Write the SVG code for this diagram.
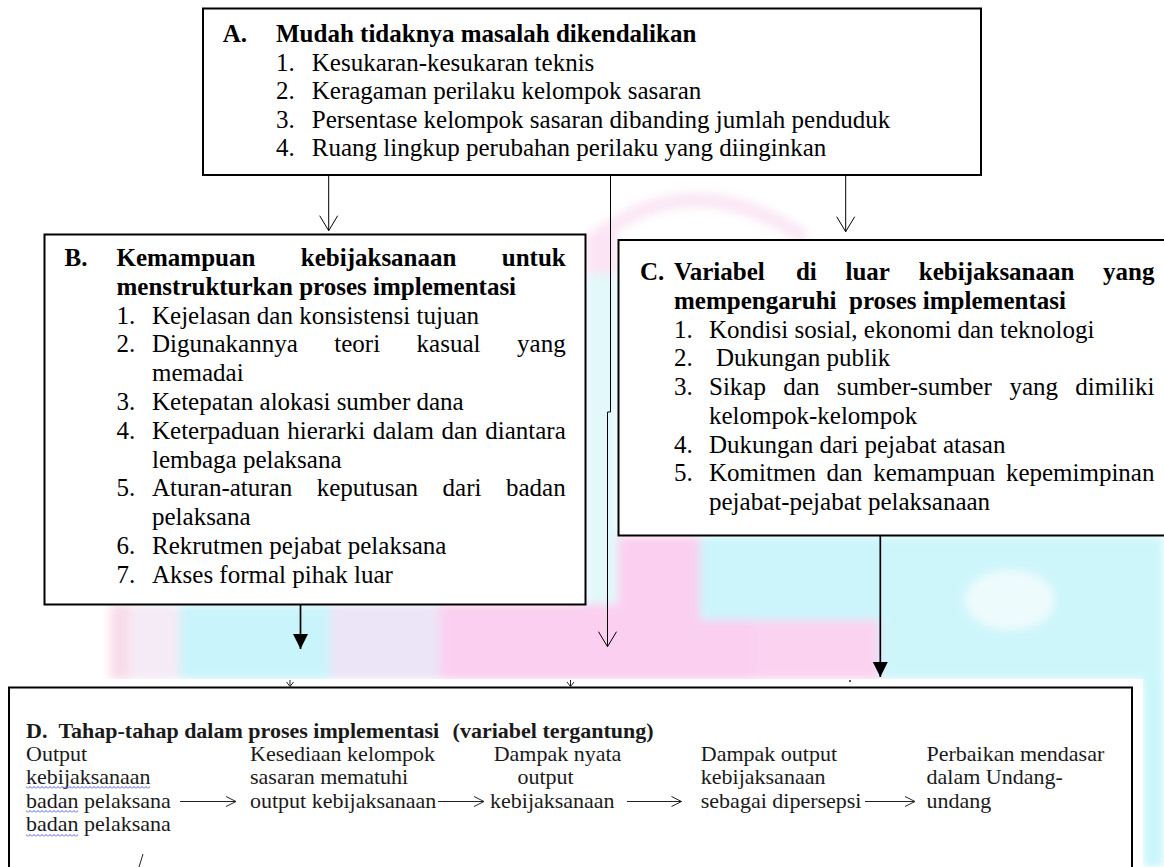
<svg xmlns="http://www.w3.org/2000/svg" width="1164" height="867" viewBox="0 0 1164 867">
<style>
.box{fill:#fff;stroke:#000;stroke-width:2}
.t{font-family:"Liberation Serif","Times New Roman",serif;font-size:25px;fill:#000}
.b{font-weight:bold}
.d{font-family:"Liberation Serif","Times New Roman",serif;font-size:22px;fill:#1a1a1a}
.thin{stroke:#000;stroke-width:1;fill:none}
.thick{stroke:#000;stroke-width:1.7;fill:none}
.ia{stroke:#222;stroke-width:1;fill:none}
</style>
<defs>
<marker id="open" markerUnits="userSpaceOnUse" markerWidth="20" markerHeight="20" refX="0" refY="0" orient="auto" overflow="visible">
<path d="M-15,-9 L0,0 L-15,9" fill="none" stroke="#000" stroke-width="1"/>
</marker>
<marker id="fill" markerUnits="userSpaceOnUse" markerWidth="20" markerHeight="20" refX="0" refY="0" orient="auto" overflow="visible">
<path d="M-15,-7.5 L0,0 L-15,7.5 Z" fill="#000"/>
</marker>
<pattern id="wave" width="4" height="3" patternUnits="userSpaceOnUse">
<path d="M0,2.5 L2,0.5 L4,2.5" fill="none" stroke="#3a56d4" stroke-width="0.9"/>
</pattern>
<filter id="blur" x="-10%" y="-10%" width="120%" height="120%"><feGaussianBlur stdDeviation="5"/></filter>
</defs>
<rect width="1164" height="867" fill="#fff"/>
<g id="watermark" filter="url(#blur)">
<path d="M590,242 Q690,160 805,238" fill="none" stroke="#fae6f4" stroke-width="14"/>
<rect x="586" y="234" width="32" height="40" fill="#fbe4f4"/>
<rect x="586" y="274" width="32" height="330" fill="#e2f8fb"/>
<rect x="110" y="604" width="20" height="76" fill="#f8dde9"/>
<rect x="130" y="604" width="50" height="76" fill="#f4ebf6"/>
<rect x="180" y="604" width="150" height="76" fill="#c9f4fb"/>
<rect x="330" y="604" width="110" height="76" fill="#ebe5f7"/>
<rect x="440" y="604" width="315" height="76" fill="#fbcff0"/>
<rect x="618" y="536" width="82" height="144" fill="#fbcff0"/>
<rect x="700" y="536" width="180" height="84" fill="#cbf5fb"/>
<rect x="755" y="620" width="125" height="60" fill="#fbd3f1"/>
<rect x="880" y="536" width="284" height="144" fill="#cdf6fb"/>
<ellipse cx="1010" cy="600" rx="45" ry="30" fill="#eefbfd"/>
<rect x="1143" y="680" width="21" height="187" fill="#c9f6fb"/>
</g>
<rect x="0" y="679" width="1143" height="188" fill="#fff"/>

<g id="connectors">
<line class="thin" x1="328.7" y1="175" x2="328.7" y2="230.7" marker-end="url(#open)"/>
<line class="thin" x1="845.7" y1="175" x2="845.7" y2="231.7" marker-end="url(#open)"/>
<path class="thin" d="M610.5,175 V412 H607.5 V646.7" marker-end="url(#open)"/>
<line class="thick" x1="300.5" y1="605" x2="300.5" y2="649" marker-end="url(#fill)"/>
<line class="thick" x1="880.3" y1="536" x2="880.3" y2="677" marker-end="url(#fill)"/>
<path class="ia" d="M290,680 V686 M286.5,682 L290,686.5 L293.5,682"/>
<path class="ia" d="M570.5,680 V686 M567,682 L570.5,686.5 L574,682"/>
<circle cx="850" cy="681" r="1" fill="#222"/>
</g>

<g id="nodeA">
<rect class="box" x="203" y="8.5" width="778" height="166.5"/>
<text class="t b" y="42"><tspan x="222.7">A.</tspan><tspan x="276">Mudah tidaknya masalah dikendalikan</tspan></text>
<text class="t" y="70.5"><tspan x="276">1.</tspan><tspan x="311.8">Kesukaran-kesukaran teknis</tspan></text>
<text class="t" y="99"><tspan x="276">2.</tspan><tspan x="311.8">Keragaman perilaku kelompok sasaran</tspan></text>
<text class="t" y="127.5"><tspan x="276">3.</tspan><tspan x="311.8">Persentase kelompok sasaran dibanding jumlah penduduk</tspan></text>
<text class="t" y="156"><tspan x="276">4.</tspan><tspan x="311.8">Ruang lingkup perubahan perilaku yang diinginkan</tspan></text>
</g>

<g id="nodeB">
<rect class="box" x="44.5" y="234.5" width="541" height="370"/>
<text class="t b" y="266"><tspan x="64.6">B.</tspan><tspan x="116.5">Kemampuan</tspan><tspan x="300.8">kebijaksanaan</tspan><tspan x="501.8">untuk</tspan></text>
<text class="t b" y="294.8" x="116.5">menstrukturkan proses implementasi</text>
<text class="t" y="323.6"><tspan x="116.5">1.</tspan><tspan x="152">Kejelasan dan konsistensi tujuan</tspan></text>
<text class="t" y="352.4"><tspan x="116.5">2.</tspan><tspan x="152">Digunakannya</tspan><tspan x="334.3">teori</tspan><tspan x="416.6">kasual</tspan><tspan x="517.1">yang</tspan></text>
<text class="t" y="381.2" x="152">memadai</text>
<text class="t" y="410"><tspan x="116.5">3.</tspan><tspan x="152">Ketepatan alokasi sumber dana</tspan></text>
<text class="t" y="438.8"><tspan x="116.5">4.</tspan><tspan x="152" word-spacing="1.4">Keterpaduan hierarki dalam dan diantara</tspan></text>
<text class="t" y="467.6" x="152">lembaga pelaksana</text>
<text class="t" y="496.4"><tspan x="116.5">5.</tspan><tspan x="152">Aturan-aturan</tspan><tspan x="316.7">keputusan</tspan><tspan x="442.6">dari</tspan><tspan x="506">badan</tspan></text>
<text class="t" y="525.2" x="152">pelaksana</text>
<text class="t" y="554"><tspan x="116.5">6.</tspan><tspan x="152">Rekrutmen pejabat pelaksana</tspan></text>
<text class="t" y="582.8"><tspan x="116.5">7.</tspan><tspan x="152">Akses formal pihak luar</tspan></text>
</g>

<g id="nodeC">
<rect class="box" x="618.5" y="240" width="560" height="295.5"/>
<text class="t b" y="280"><tspan x="640">C.</tspan><tspan x="674">Variabel</tspan><tspan x="795.9">di</tspan><tspan x="845.5">luar</tspan><tspan x="918.8">kebijaksanaan</tspan><tspan x="1103.1">yang</tspan></text>
<text class="t b" y="308.75"><tspan x="674">mempengaruhi</tspan><tspan x="849">proses implementasi</tspan></text>
<text class="t" y="337.5"><tspan x="674">1.</tspan><tspan x="709">Kondisi sosial, ekonomi dan teknologi</tspan></text>
<text class="t" y="366.25"><tspan x="674">2.</tspan><tspan x="716">Dukungan publik</tspan></text>
<text class="t" y="395"><tspan x="674">3.</tspan><tspan x="709">Sikap</tspan><tspan x="783.3">dan</tspan><tspan x="836.7">sumber-sumber</tspan><tspan x="1009.5">yang</tspan><tspan x="1075.3">dimiliki</tspan></text>
<text class="t" y="423.75" x="709">kelompok-kelompok</text>
<text class="t" y="452.5"><tspan x="674">4.</tspan><tspan x="709">Dukungan dari pejabat atasan</tspan></text>
<text class="t" y="481.25"><tspan x="674">5.</tspan><tspan x="709">Komitmen</tspan><tspan x="826.5">dan</tspan><tspan x="873.2">kemampuan</tspan><tspan x="1005.9">kepemimpinan</tspan></text>
<text class="t" y="510" x="709">pejabat-pejabat pelaksanaan</text>
</g>

<g id="nodeD">
<rect class="box" x="9" y="687.5" width="1123" height="200"/>
<text class="d b" y="738"><tspan x="26">D.</tspan><tspan x="58.4">Tahap-tahap dalam proses implementasi</tspan><tspan x="452.6">(variabel tergantung)</tspan></text>
<text class="d" y="761"><tspan x="26">Output</tspan><tspan x="250">Kesediaan kelompok</tspan><tspan x="493.7">Dampak nyata</tspan><tspan x="700.8">Dampak output</tspan><tspan x="926.5">Perbaikan mendasar</tspan></text>
<text class="d" y="784"><tspan x="26">kebijaksanaan</tspan><tspan x="250">sasaran mematuhi</tspan><tspan x="517.5">output</tspan><tspan x="700.8">kebijaksanaan</tspan><tspan x="926.5">dalam Undang-</tspan></text>
<text class="d" y="807.5"><tspan x="26">badan pelaksana</tspan><tspan x="250">output kebijaksanaan</tspan><tspan x="490">kebijaksanaan</tspan><tspan x="700.8">sebagai dipersepsi</tspan><tspan x="926.5">undang</tspan></text>
<text class="d" y="831"><tspan x="26">badan pelaksana</tspan></text>
<rect x="26" y="786" width="124" height="3" fill="url(#wave)"/>
<rect x="26" y="810" width="52" height="3" fill="url(#wave)"/>
<rect x="26" y="834" width="52" height="3" fill="url(#wave)"/>
<path class="ia" d="M180,801.5 H236 M226,796.5 L236,801.5 L226,806.5"/>
<path class="ia" d="M438,801.5 H484 M474,796.5 L484,801.5 L474,806.5"/>
<path class="ia" d="M627,801.5 H681.5 M671.5,796.5 L681.5,801.5 L671.5,806.5"/>
<path class="ia" d="M865,801.5 H915 M905,796.5 L915,801.5 L905,806.5"/>
<line class="ia" x1="139" y1="867" x2="143" y2="854"/>
</g>
</svg>
